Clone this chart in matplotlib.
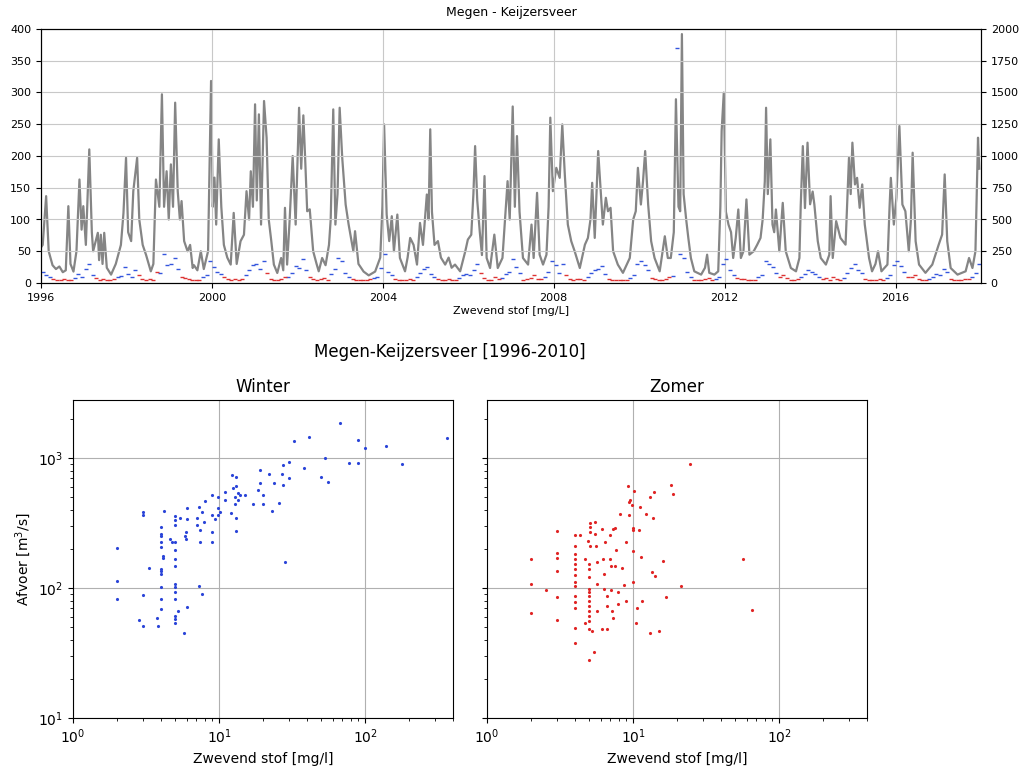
import numpy as np
import matplotlib
matplotlib.use("Agg")
import matplotlib.pyplot as plt

# afvoer Megen [m3/s] (tijd in decimale jaren)
afvoer_t = [
    1996.00, 1996.04, 1996.12, 1996.18, 1996.27, 1996.35, 1996.43, 1996.51, 1996.58, 1996.64, 1996.69, 1996.76, 1996.83, 1996.90, 1996.95, 1996.99,
    1997.05, 1997.13, 1997.19, 1997.22, 1997.33, 1997.36, 1997.40, 1997.44, 1997.48, 1997.54, 1997.64, 1997.75, 1997.87, 1997.93, 1997.99,
    1998.04, 1998.11, 1998.16, 1998.25, 1998.30, 1998.38, 1998.46, 1998.57, 1998.63, 1998.69, 1998.77, 1998.83, 1998.88, 1998.94, 1998.99,
    1999.04, 1999.09, 1999.14, 1999.20, 1999.25, 1999.29, 1999.35, 1999.43, 1999.49, 1999.55, 1999.58, 1999.66, 1999.74, 1999.81, 1999.91, 1999.98,
    2000.02, 2000.06, 2000.10, 2000.16, 2000.22, 2000.28, 2000.36, 2000.44, 2000.51, 2000.58, 2000.67, 2000.75, 2000.81, 2000.87, 2000.91, 2000.96,
    2001.01, 2001.05, 2001.10, 2001.15, 2001.22, 2001.28, 2001.33, 2001.39, 2001.45, 2001.53, 2001.62, 2001.67, 2001.71, 2001.76, 2001.82, 2001.89, 2001.96,
    2002.04, 2002.09, 2002.14, 2002.18, 2002.23, 2002.29, 2002.37, 2002.45, 2002.50, 2002.58, 2002.66, 2002.74, 2002.78, 2002.84, 2002.89, 2002.94, 2002.99,
    2003.05, 2003.13, 2003.20, 2003.31, 2003.35, 2003.43, 2003.55, 2003.67, 2003.82, 2003.94, 2003.99,
    2004.03, 2004.09, 2004.15, 2004.21, 2004.26, 2004.34, 2004.40, 2004.52, 2004.58, 2004.64, 2004.72, 2004.80, 2004.87, 2004.94,
    2005.03, 2005.07, 2005.11, 2005.15, 2005.21, 2005.29, 2005.36, 2005.46, 2005.54, 2005.61, 2005.69, 2005.81, 2005.93, 2005.99,
    2006.07, 2006.12, 2006.16, 2006.21, 2006.27, 2006.32, 2006.38, 2006.43, 2006.51, 2006.61, 2006.69, 2006.80, 2006.88, 2006.92, 2006.97,
    2007.04, 2007.09, 2007.14, 2007.20, 2007.28, 2007.40, 2007.48, 2007.53, 2007.61, 2007.67, 2007.75, 2007.83, 2007.88, 2007.92, 2007.98,
    2008.06, 2008.14, 2008.20, 2008.26, 2008.33, 2008.41, 2008.49, 2008.61, 2008.73, 2008.80, 2008.86, 2008.90, 2008.96,
    2009.04, 2009.09, 2009.15, 2009.22, 2009.27, 2009.33, 2009.39, 2009.50, 2009.62, 2009.78, 2009.86, 2009.92, 2009.97,
    2010.04, 2010.09, 2010.14, 2010.21, 2010.28, 2010.36, 2010.48, 2010.60, 2010.67, 2010.74, 2010.81, 2010.86, 2010.92, 2010.96,
    2011.00, 2011.04, 2011.10, 2011.15, 2011.21, 2011.29, 2011.45, 2011.54, 2011.59, 2011.64, 2011.76, 2011.85, 2011.90, 2011.93, 2011.98,
    2012.03, 2012.09, 2012.15, 2012.20, 2012.26, 2012.32, 2012.38, 2012.44, 2012.51, 2012.58, 2012.68, 2012.76, 2012.84, 2012.89, 2012.94, 2012.97,
    2013.01, 2013.07, 2013.12, 2013.16, 2013.20, 2013.28, 2013.36, 2013.43, 2013.55, 2013.67, 2013.75, 2013.78, 2013.83, 2013.88, 2013.94,
    2014.00, 2014.06, 2014.10, 2014.18, 2014.25, 2014.37, 2014.45, 2014.48, 2014.53, 2014.61, 2014.71, 2014.83, 2014.91, 2014.95, 2014.99,
    2015.05, 2015.10, 2015.16, 2015.22, 2015.28, 2015.38, 2015.45, 2015.53, 2015.59, 2015.67, 2015.81, 2015.86, 2015.89, 2015.96,
    2016.02, 2016.09, 2016.16, 2016.23, 2016.31, 2016.36, 2016.40, 2016.47, 2016.55, 2016.70, 2016.86,
    2017.01, 2017.09, 2017.15, 2017.21, 2017.29, 2017.45, 2017.64, 2017.72, 2017.80, 2017.87, 2017.93, 2017.96,
]
afvoer_q = [
    280, 300, 684, 250, 140, 110, 130, 85, 100, 605, 150, 90, 250, 815, 420, 605,
    300, 1052, 400, 250, 395, 180, 380, 150, 395, 120, 66, 150, 300, 550, 986,
    400, 330, 723, 986, 500, 300, 220, 92, 150, 815, 600, 1486, 600, 880, 500,
    934, 600, 1420, 723, 500, 645, 330, 250, 300, 118, 140, 100, 250, 110, 250, 1591,
    600, 830, 460, 1131, 600, 300, 200, 145, 552, 150, 329, 380, 723, 500, 880, 600,
    1407, 650, 1328, 460, 1433, 1144, 500, 330, 145, 79, 197, 100, 592, 145, 500, 1000, 460,
    1380, 900, 1320, 1000, 565, 580, 250, 150, 92, 197, 140, 300, 500, 1367, 460, 700, 1380,
    986, 618, 460, 250, 408, 150, 90, 60, 90, 200, 600,
    1249, 539, 330, 526, 250, 539, 197, 92, 200, 355, 300, 145, 473, 300,
    697, 500, 1210, 560, 300, 330, 200, 145, 200, 120, 145, 92, 250, 342,
    380, 700, 1078, 650, 400, 220, 842, 197, 118, 381, 118, 197, 600, 802, 500,
    1390, 600, 1157, 560, 197, 145, 460, 197, 710, 223, 145, 223, 600, 1302, 723,
    907, 828, 1249, 850, 460, 329, 250, 118, 302, 355, 500, 789, 355,
    1039, 776, 460, 671, 565, 592, 250, 145, 80, 197, 500, 565, 907,
    618, 802, 1039, 618, 329, 197, 92, 368, 197, 197, 400, 1447, 600, 565,
    1960, 700, 500, 355, 197, 92, 66, 120, 223, 80, 66, 92, 600, 1197, 1499,
    560, 460, 400, 197, 355, 579, 197, 250, 658, 223, 250, 300, 355, 500, 800, 1380,
    700, 1131, 460, 400, 579, 250, 631, 250, 118, 92, 197, 600, 1078, 590, 1105,
    620, 720, 618, 329, 197, 145, 223, 684, 197, 487, 355, 302, 986, 700, 1105,
    776, 828, 592, 776, 460, 197, 92, 150, 250, 92, 145, 600, 828, 460,
    671, 1236, 618, 565, 250, 500, 1026, 329, 145, 80, 145,
    302, 381, 855, 329, 118, 66, 92, 197, 118, 250, 1144, 900,
]
assert len(afvoer_t) == len(afvoer_q)

# zwevend stof [mg/L], maandwaarden 1996..2017 (geschat)
stof_jaren = list(range(1996, 2018))
stof_maand = [
    [18, 12, 9, 6, 5, 4, 7, 5, 4, 8, 14, 10],
    [22, 30, 12, 8, 5, 6, 4, 5, 6, 9, 11, 25],
    [14, 10, 20, 12, 7, 5, 6, 4, 18, 15, 45, 28],
    [30, 40, 22, 10, 8, 6, 5, 4, 5, 9, 12, 35],
    [25, 18, 14, 9, 6, 5, 7, 5, 6, 12, 20, 28],
    [30, 22, 35, 15, 7, 5, 4, 6, 9, 10, 15, 26],
    [24, 38, 20, 9, 6, 5, 7, 8, 5, 14, 22, 40],
    [35, 15, 9, 6, 5, 4, 4, 5, 6, 8, 10, 24],
    [45, 18, 12, 7, 5, 4, 5, 6, 5, 9, 16, 22],
    [25, 14, 10, 6, 5, 4, 6, 5, 4, 8, 12, 14],
    [12, 20, 30, 15, 8, 5, 4, 9, 6, 8, 14, 18],
    [38, 25, 15, 5, 6, 8, 12, 7, 6, 9, 18, 35],
    [28, 16, 30, 12, 6, 5, 7, 6, 5, 10, 15, 20],
    [22, 26, 14, 6, 5, 4, 5, 4, 5, 8, 12, 30],
    [34, 28, 20, 8, 6, 5, 4, 7, 9, 11, 370, 45],
    [40, 18, 10, 5, 4, 5, 6, 8, 5, 7, 9, 30],
    [38, 20, 12, 8, 6, 7, 5, 4, 5, 9, 12, 35],
    [30, 25, 16, 9, 12, 8, 5, 4, 6, 10, 14, 20],
    [18, 14, 9, 6, 8, 5, 9, 6, 5, 8, 16, 24],
    [30, 20, 15, 7, 5, 4, 5, 6, 5, 8, 12, 28],
    [35, 26, 18, 10, 9, 12, 6, 5, 4, 7, 10, 14],
    [12, 22, 18, 6, 5, 4, 5, 7, 6, 9, 15, 30],
]
winter_maanden = [1, 2, 3, 10, 11, 12]

# scatter 1996-2010: winter
winter_stof = [
    2, 2, 2, 2.85, 3, 3, 3, 3, 3.33, 3.74, 3.85,
    4, 4, 4, 4, 4, 4, 4, 4, 4, 4, 4, 4.16, 4.16, 4.2, 4.62, 4.8,
    5, 5, 5, 5, 5, 5, 5, 5, 5, 5, 5, 5, 5, 5, 5.26, 5.4, 5.75,
    6, 6, 6, 5.9, 5.9, 5.85, 7.27, 7.6, 7.1, 7.1, 7.3, 7.4, 7.6, 7.4, 7.9, 8.0,
    8.9, 8.9, 8.9, 8.9, 9.9, 9.9, 9.9, 10.2, 9.4, 11, 11, 12, 12.3, 12.5,
    12.9, 12.9, 13, 13, 13, 13, 13.4, 13.4, 13.9, 15, 17, 18.6, 19, 19, 20, 20,
    22, 23, 23.7, 25.7, 27, 27.6, 27.6, 28.3, 30, 30, 32.6, 38, 41,
    50, 53, 56, 67, 78, 89, 90, 100, 140, 178, 365,
]
winter_afvoer = [
    83, 205, 114, 57, 51, 89, 364, 385, 143, 59, 51,
    69, 83, 101, 128, 141, 135, 207, 262, 296, 250, 228, 170, 175, 391, 237, 225,
    360, 333, 306, 225, 195, 168, 147, 108, 102, 93, 82, 61, 58, 54, 67, 344, 45,
    72, 341, 410, 270, 237, 252, 103, 90, 344, 306, 420, 280, 384, 225, 325, 465,
    520, 364, 270, 228, 505, 410, 364, 385, 341, 552, 475, 375, 740, 585,
    505, 445, 710, 605, 344, 275, 535, 475, 520, 520, 445, 570, 640, 810, 520, 445,
    760, 390, 640, 455, 755, 885, 620, 160, 700, 935, 1346, 845, 1450,
    715, 1000, 650, 1867, 910, 1380, 910, 1190, 1230, 900, 1420,
]

# scatter 1996-2010: zomer
zomer_stof = [
    2, 2, 2, 2.54, 3, 3, 3, 3, 3, 3,
    4, 4, 4, 4, 4, 4, 4, 4, 4, 4, 4, 4, 4, 4,
    4.3, 4.7, 4.7, 4.9, 5, 5, 5, 5.1, 5.1, 5.1, 5.1,
    5, 5, 5, 5, 5, 5, 5, 5, 5, 5, 5.4, 5.2,
    5.5, 5.5, 5.6, 5.7, 5.7, 5.7, 6.1, 6.1, 6.2, 6.3, 6.3,
    6.6, 6.4, 6.6, 6.6, 6.95, 7.3, 7, 7.1, 7.1, 7.2, 7.3,
    7.5, 7.5, 7.7, 7.9, 7.9, 8.1, 8.4, 8.7, 9, 9,
    9.3, 9.4, 9.4, 9.5, 9.8, 10, 10, 10, 10, 10.1, 10.4, 10.6,
    10.9, 11.2, 11.3, 11.6, 12.3, 13, 13.1, 13.4, 13.9, 13.8, 14.1,
    15, 16, 16.8, 18.3, 18.7, 21.2, 24.6, 57, 65,
]
zomer_afvoer = [
    166, 108, 64, 97, 273, 187, 170, 136, 85, 57,
    255, 210, 184, 168, 154, 140, 125, 111, 104, 87, 78, 70, 49, 38,
    258, 168, 54, 232, 154, 140, 122, 318, 295, 270, 212,
    98, 93, 87, 80, 73, 67, 61, 56, 48, 28, 32, 47,
    322, 262, 212, 158, 108, 67, 286, 48, 168, 129, 99,
    48, 225, 87, 73, 255, 286, 168, 147, 97, 67, 59,
    290, 149, 195, 93, 75, 370, 142, 106, 225, 80,
    614, 365, 460, 480, 435, 192, 290, 112, 278, 560, 54, 70,
    280, 424, 172, 80, 372, 45, 505, 133, 545, 345, 123,
    47, 162, 85, 620, 530, 103, 900, 168, 68,
]

jaar_ticks = [1996, 2000, 2004, 2008, 2012, 2016]

W, H = 1036, 772
fig = plt.figure(figsize=(W / 100, H / 100), dpi=100)

# ---- bovenste grafiek: tijdreeks ----
ax1 = fig.add_axes([41 / W, 1 - 283 / H, 940 / W, 254 / H])
ax2 = ax1.twinx()
ax2.plot(afvoer_t, afvoer_q, color='#858585', lw=1.6)
ax2.set_ylim(0, 2000)
ax2.set_yticks(range(0, 2001, 250))
ax2.tick_params(labelsize=8)

tw, sw, ts, ss = [], [], [], []
for j, rij in zip(stof_jaren, stof_maand):
    for m, v in enumerate(rij, start=1):
        t = j + (m - 0.5) / 12
        if m in winter_maanden:
            tw.append(t); sw.append(v)
        else:
            ts.append(t); ss.append(v)

ax1.set_zorder(ax2.get_zorder() + 1)
ax1.patch.set_visible(False)
ax1.plot(tw, sw, ls='none', marker='_', ms=3, mew=1, color='#3355dd')
ax1.plot(ts, ss, ls='none', marker='_', ms=3, mew=1, color='#dd3333')
ax1.set_xlim(1996, 2018)
ax1.set_ylim(0, 400)
ax1.set_yticks(range(0, 401, 50))
ax1.set_xticks(jaar_ticks)
ax1.set_xticklabels([str(j) for j in jaar_ticks])
ax1.tick_params(labelsize=8)
ax1.grid(True, color='#c8c8c8', lw=0.8)
ax1.set_title('Megen - Keijzersveer', fontsize=9, pad=9)
ax1.set_xlabel('Zwevend stof [mg/L]', fontsize=8, labelpad=2)

# ---- onderste grafieken: scatter ----
fig.text(450 / W, 1 - 352 / H, 'Megen-Keijzersveer [1996-2010]', ha='center', va='center', fontsize=12)

axw = fig.add_axes([73 / W, 1 - 718 / H, 380 / W, 318 / H])
axz = fig.add_axes([487 / W, 1 - 718 / H, 380 / W, 318 / H])

axw.plot(winter_stof, winter_afvoer, ls='none', marker='.', ms=2.5, color='#2a44d8')
axz.plot(zomer_stof, zomer_afvoer, ls='none', marker='.', ms=2.5, color='#e02424')

for ax, titel in [(axw, 'Winter'), (axz, 'Zomer')]:
    ax.set_xscale('log')
    ax.set_yscale('log')
    ax.set_xlim(1, 400)
    ax.set_ylim(10, 2800)
    ax.grid(True, which='major', color='#b0b0b0', lw=0.8)
    ax.set_title(titel, fontsize=12)
    ax.set_xlabel('Zwevend stof [mg/l]', fontsize=10)
    ax.tick_params(labelsize=10)

axw.set_ylabel('Afvoer [m$^3$/s]', fontsize=10)
axz.tick_params(labelleft=False)

fig.savefig('out.png', dpi=100)
